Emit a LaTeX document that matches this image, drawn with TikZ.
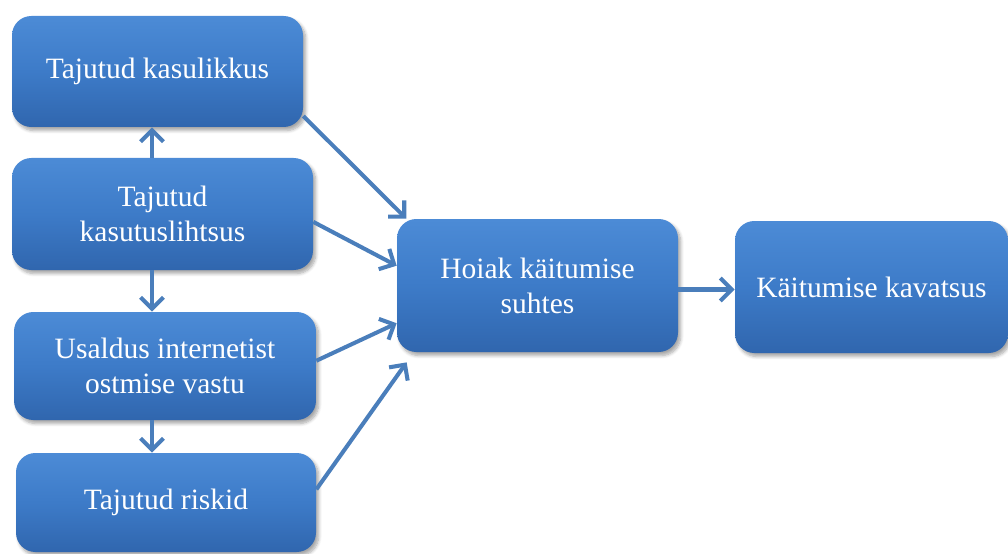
\documentclass[tikz,border=0pt]{standalone}
\usepackage{fontspec}
\setmainfont{Liberation Serif}
\usepackage{tikz}
\usetikzlibrary{arrows.meta}
\usetikzlibrary{calc}
\usetikzlibrary{shadows.blur}

\definecolor{boxtop}{HTML}{4C8BD6}
\definecolor{boxmid}{HTML}{3D7BC8}
\definecolor{boxbot}{HTML}{3066AE}
\definecolor{linkblue}{HTML}{4A7EBB}

\begin{document}
\begin{tikzpicture}[x=0.02cm, y=-0.02cm,
	>={Straight Barb[length=6.5pt, width=13pt]},
	factor/.style={rectangle, rounded corners=11pt, top color=boxtop,
		bottom color=boxbot, middle color=boxmid, draw=none,
		text=white, align=center, inner sep=0pt,
		font=\fontsize{16.8}{20}\selectfont,
		blur shadow={shadow xshift=1.5pt, shadow yshift=-2pt,
			shadow blur steps=6, shadow opacity=35}},
	link/.style={->, draw=linkblue, line width=2.3pt},
]
\useasboundingbox (0,0) rectangle (1008,554);
\node [factor, minimum width=291*0.02cm, minimum height=111*0.02cm] (kas) at (157.5,71.5)  {Tajutud kasulikkus};
\node [factor, minimum width=301*0.02cm, minimum height=112*0.02cm] (lih) at (162.5,214)  {Tajutud\\kasutuslihtsus};
\node [factor, minimum width=302*0.02cm, minimum height=108*0.02cm] (usa) at (165,366)    {Usaldus internetist\\ostmise vastu};
\node [factor, minimum width=300*0.02cm, minimum height=99*0.02cm]  (ris) at (166,502.5)  {Tajutud riskid};
\node [factor, minimum width=281*0.02cm, minimum height=133*0.02cm] (hoi) at (537.5,285.5) {Hoiak käitumise\\suhtes};
\node [factor, minimum width=273*0.02cm, minimum height=132*0.02cm] (kav) at (871.5,287)  {Käitumise kavatsus};
\coordinate (col) at (152,0);
%
\draw [link] (lih.north -| col) -- (kas.south -| col);
\draw [link] (lih.south -| col) -- (usa.north -| col);
\draw [link] (usa.south -| col) -- (ris.north -| col);
\draw [link] (kas.-17) -- (hoi.153);
\draw [link] (lih.-3) -- (hoi.172);
\draw [link] (usa.2) -- (hoi.195);
\draw [link] (ris.5) -- ($(hoi.south west)+(10,10)$);
\draw [link] ([yshift=-4*0.02cm]hoi.east) -- ([yshift=-4*0.02cm]hoi.east -| kav.west);
\end{tikzpicture}
\end{document}
